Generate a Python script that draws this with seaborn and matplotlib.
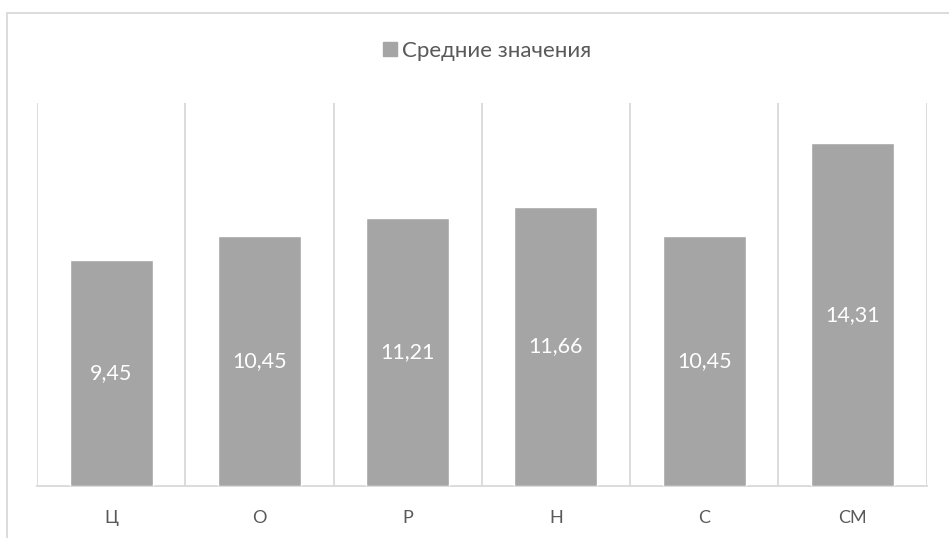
import matplotlib
matplotlib.use("Agg")
import matplotlib.pyplot as plt
from matplotlib.lines import Line2D
import seaborn as sns
import pandas as pd

categories = ["Ц", "О", "Р", "Н", "С", "СМ"]
values = [9.45, 10.45, 11.21, 11.66, 10.45, 14.31]
series_name = "Средние значения"

BAR = "#A5A5A5"
GRID = "#D9D9D9"
TEXT = "#595959"

sns.set_theme(style="white")
plt.rcParams["font.family"] = ["Lato", "DejaVu Sans"]

df = pd.DataFrame({"cat": categories, "val": values})

fig = plt.figure(figsize=(9.49, 5.38), dpi=100)
ax = fig.add_axes([37 / 949, 52 / 538, (926.5 - 37) / 949, 383 / 538])

sns.barplot(data=df, x="cat", y="val", color=BAR, width=0.56,
            saturation=1, ax=ax, zorder=3)

ax.set_ylim(0, 16)
ax.set_xlim(-0.5, len(categories) - 0.5)
ax.set_yticks([])
ax.set_xlabel("")
ax.set_ylabel("")

# vertical separators between categories
ax.set_xticks([i - 0.5 for i in range(len(categories) + 1)], minor=True)
ax.grid(which="minor", axis="x", color=GRID, linewidth=1.3, zorder=0)
ax.tick_params(axis="x", which="both", length=0, labelsize=13,
               labelcolor=TEXT, pad=17)

for side in ("top", "left", "right"):
    ax.spines[side].set_visible(False)
ax.spines["bottom"].set_color(GRID)
ax.spines["bottom"].set_linewidth(1.3)

labels = [f"{v:.2f}".replace(".", ",") for v in values]
ax.bar_label(ax.containers[0], labels=labels, label_type="center",
             color="white", fontsize=15.5)

handle = Line2D([], [], marker="s", linestyle="none", markersize=10.5,
                markerfacecolor=BAR, markeredgecolor=BAR)
fig.legend([handle], [series_name], loc="center",
           bbox_to_anchor=(486 / 949, 1 - 51 / 538), frameon=False,
           fontsize=16, labelcolor=TEXT, handletextpad=0.15,
           handlelength=0.8)

# outer chart frame
fig.add_artist(Line2D([7 / 949, 7 / 949], [0, 1 - 13 / 538],
                      transform=fig.transFigure, color=GRID, linewidth=1.3))
fig.add_artist(Line2D([7 / 949, 1], [1 - 13 / 538, 1 - 13 / 538],
                      transform=fig.transFigure, color=GRID, linewidth=1.3))

fig.savefig("out.png", dpi=100, facecolor="white")
